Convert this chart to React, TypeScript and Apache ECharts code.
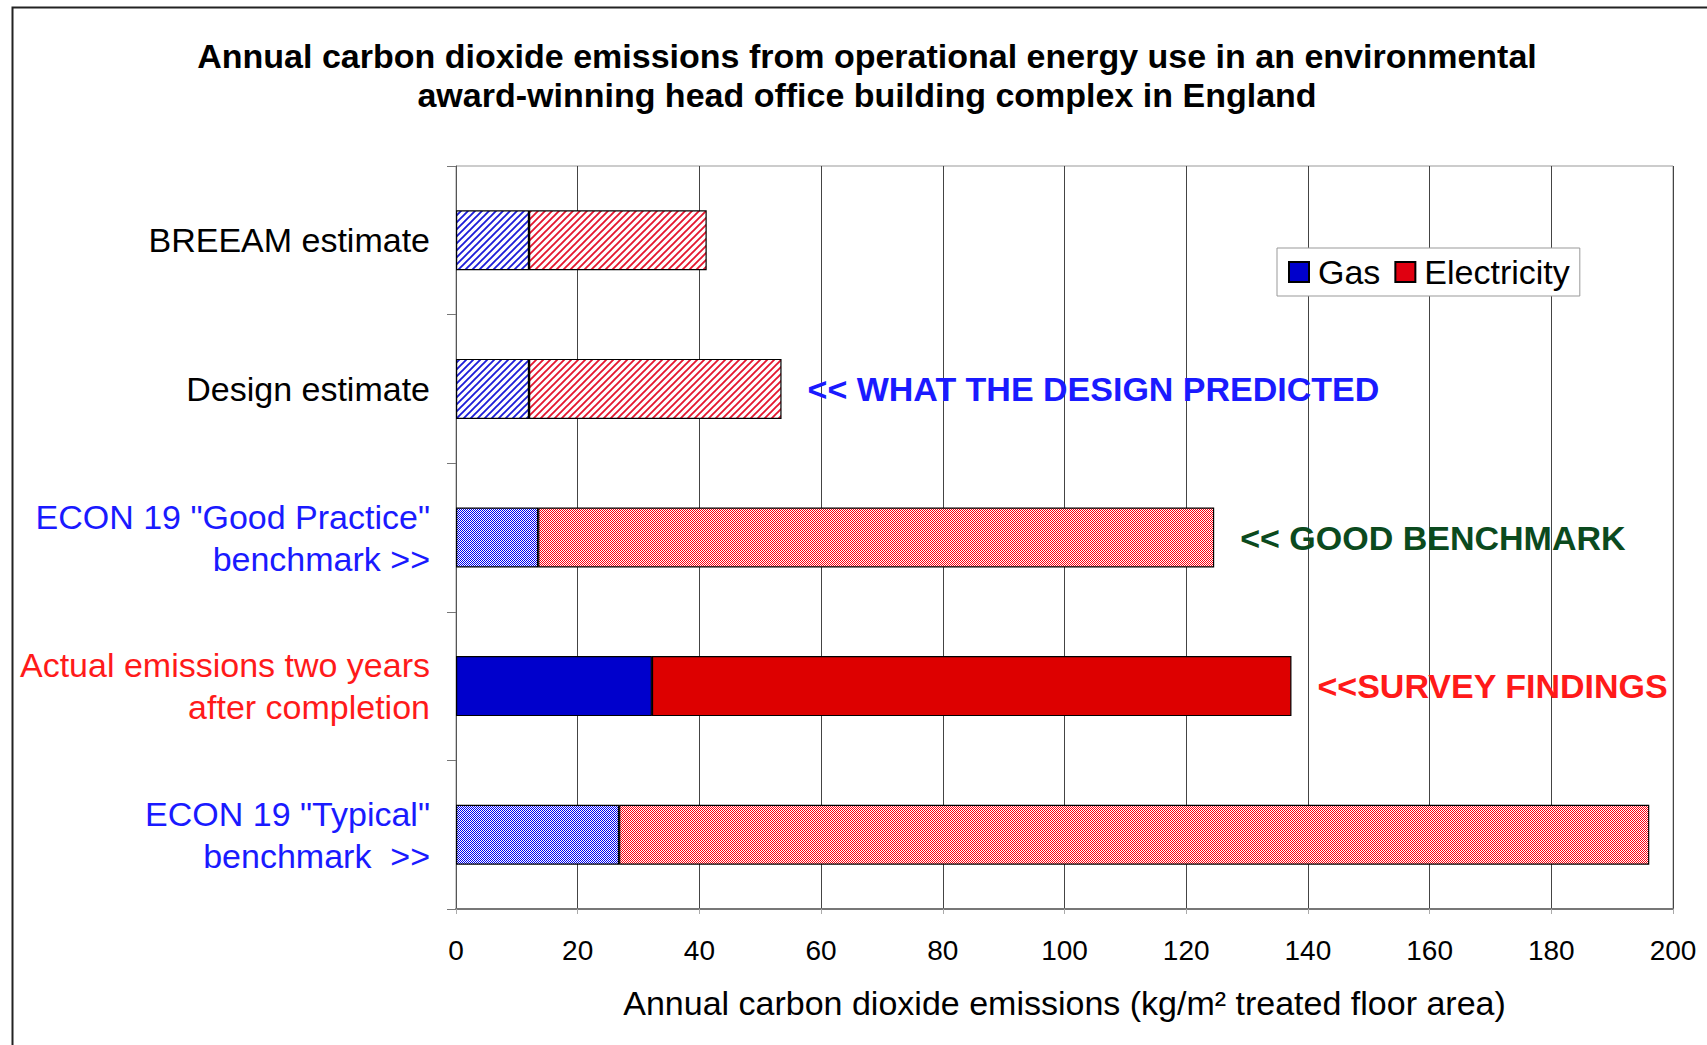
import React, { useEffect, useRef } from 'react';
import * as echarts from 'echarts';

const titleLines = [
  'Annual carbon dioxide emissions from operational energy use in an environmental',
  'award-winning head office building complex in England',
];
const categories = [
  'BREEAM estimate',
  'Design estimate',
  'ECON 19 "Good Practice"\nbenchmark >>',
  'Actual emissions two years\nafter completion',
  'ECON 19 "Typical"\nbenchmark  >>',
];
const categoryColors = ['#000000', '#000000', '#1a1aff', '#ff1a1a', '#1a1aff'];
const gasValues = [12, 12, 13.5, 32.2, 26.8];
const electricityValues = [29.2, 41.5, 111.1, 105.1, 169.3];
const fillKinds = ['hatch', 'hatch', 'dots', 'solid', 'dots'];
const annotations = ['', '<< WHAT THE DESIGN PREDICTED', '<< GOOD BENCHMARK', '<<SURVEY FINDINGS', ''];
const annotationColors = ['#000000', '#1a1aff', '#0b4a1e', '#ff1a1a', '#000000'];
const seriesNames = ['Gas', 'Electricity'];
const xMin = 0;
const xMax = 200;
const xInterval = 20;
const xAxisName = 'Annual carbon dioxide emissions (kg/m² treated floor area)';

const FONT = '"Liberation Sans", Arial, Helvetica, sans-serif';

function hatchCanvas(color: string) {
  const s = 7;
  const c = document.createElement('canvas');
  c.width = s;
  c.height = s;
  const ctx = c.getContext('2d')!;
  ctx.fillStyle = '#ffffff';
  ctx.fillRect(0, 0, s, s);
  ctx.strokeStyle = color;
  ctx.lineWidth = 1.9;
  ctx.beginPath();
  ctx.moveTo(0, s);
  ctx.lineTo(s, 0);
  ctx.moveTo(-1, 1);
  ctx.lineTo(1, -1);
  ctx.moveTo(s - 1, s + 1);
  ctx.lineTo(s + 1, s - 1);
  ctx.stroke();
  return c;
}

function dotsCanvas(color: string) {
  const c = document.createElement('canvas');
  c.width = 2;
  c.height = 2;
  const ctx = c.getContext('2d')!;
  ctx.fillStyle = '#ffffff';
  ctx.fillRect(0, 0, 2, 2);
  ctx.fillStyle = color;
  ctx.fillRect(0, 0, 1, 1);
  ctx.fillRect(1, 1, 1, 1);
  return c;
}

function fillFor(kind: string, solid: string, line: string, dot: string): any {
  if (kind === 'hatch') {
    return { image: hatchCanvas(line), repeat: 'repeat', imageWidth: 7, imageHeight: 7 };
  }
  if (kind === 'dots') {
    return { image: dotsCanvas(dot), repeat: 'repeat', imageWidth: 2, imageHeight: 2 };
  }
  return solid;
}

export default function App() {
  const ref = useRef<HTMLDivElement>(null);

  useEffect(() => {
    if (!ref.current) return;
    const chart = echarts.init(ref.current, null, { renderer: 'svg' });

    const gasSolid = '#0000cc';
    const elecSolid = '#e00010';

    const option: any = {
      animation: false,
      backgroundColor: '#ffffff',
      textStyle: { fontFamily: FONT },
      title: {
        text: titleLines.join('\n'),
        left: 862,
        textAlign: 'center',
        top: 31,
        textStyle: {
          fontFamily: FONT,
          fontSize: 34,
          fontWeight: 'bold',
          lineHeight: 39,
          color: '#000000',
        },
      },
      legend: {
        data: seriesNames,
        left: 1277,
        top: 248,
        orient: 'horizontal',
        icon: 'rect',
        itemWidth: 20,
        itemHeight: 20,
        itemGap: 14,
        padding: [7, 10, 7, 11],
        borderColor: '#999999',
        borderWidth: 1,
        backgroundColor: '#ffffff',
        textStyle: { fontFamily: FONT, fontSize: 34, color: '#000000', padding: [0, 0, 0, 4] },
      },
      grid: {
        left: 456,
        right: 34,
        top: 166,
        bottom: 136,
        show: true,
        borderColor: '#999999',
        borderWidth: 1,
        containLabel: false,
      },
      xAxis: {
        type: 'value',
        min: xMin,
        max: xMax,
        interval: xInterval,
        name: xAxisName,
        nameLocation: 'middle',
        nameGap: 77,
        nameTextStyle: { fontFamily: FONT, fontSize: 34, color: '#000000' },
        axisLine: { show: true, lineStyle: { color: '#777777', width: 2 } },
        axisTick: { show: true, length: 5, lineStyle: { color: '#aaaaaa' } },
        axisLabel: { fontFamily: FONT, fontSize: 28, color: '#000000', margin: 27 },
        splitLine: { show: true, lineStyle: { color: '#444444', width: 1 } },
      },
      yAxis: {
        type: 'category',
        inverse: true,
        data: categories.map((c, i) => ({
          value: c,
          textStyle: { color: categoryColors[i] },
        })),
        axisLine: { show: true, lineStyle: { color: '#555555', width: 1 } },
        axisTick: { show: true, length: 9, lineStyle: { color: '#777777' } },
        axisLabel: {
          fontFamily: FONT,
          fontSize: 34,
          lineHeight: 42,
          margin: 26,
          align: 'right',
        },
        splitLine: { show: false },
      },
      series: [
        {
          name: seriesNames[0],
          type: 'bar',
          stack: 'total',
          barWidth: 60,
          itemStyle: { color: gasSolid, borderColor: '#000000', borderWidth: 1.2 },
          emphasis: { disabled: true },
          data: gasValues.map((v, i) => ({
            value: v,
            itemStyle: { color: fillFor(fillKinds[i], gasSolid, '#1e1ed8', '#0000f0') },
          })),
        },
        {
          name: seriesNames[1],
          type: 'bar',
          stack: 'total',
          barWidth: 60,
          itemStyle: { color: elecSolid, borderColor: '#000000', borderWidth: 1.2 },
          emphasis: { disabled: true },
          data: electricityValues.map((v, i) => ({
            value: v,
            itemStyle: { color: fillFor(fillKinds[i], '#dd0000', '#e41830', '#ff0010') },
            label: {
              show: annotations[i] !== '',
              position: 'right',
              distance: 26,
              formatter: annotations[i],
              fontFamily: FONT,
              fontSize: 34,
              fontWeight: 'bold',
              color: annotationColors[i],
            },
          })),
        },
      ],
      graphic: [
        {
          type: 'rect',
          shape: { x: 12.5, y: 7.5, width: 1800, height: 1200 },
          style: { fill: 'none', stroke: '#222222', lineWidth: 2 },
          silent: true,
        },
      ],
    };

    chart.setOption(option);
    return () => {
      chart.dispose();
    };
  }, []);

  return (
    <div
      ref={ref}
      style={{ position: 'absolute', left: 0, top: 0, width: 1707, height: 1045, background: '#ffffff' }}
    />
  );
}
